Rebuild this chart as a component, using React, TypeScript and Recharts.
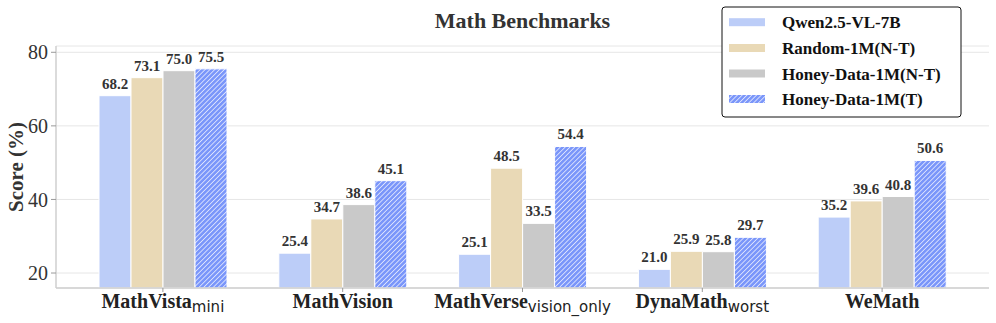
import React from 'react';
import { BarChart, Bar, XAxis, YAxis, CartesianGrid, LabelList } from 'recharts';

const categories = ['MathVista', 'MathVision', 'MathVerse', 'DynaMath', 'WeMath'];
const subscripts = ['mini', '', 'vision_only', 'worst', ''];
const qwen = [68.2, 25.4, 25.1, 21.0, 35.2];
const random1m = [73.1, 34.7, 48.5, 25.9, 39.6];
const honeyNT = [75.0, 38.6, 33.5, 25.8, 40.8];
const honeyT = [75.5, 45.1, 54.4, 29.7, 50.6];
const seriesNames = ['Qwen2.5-VL-7B', 'Random-1M(N-T)', 'Honey-Data-1M(N-T)', 'Honey-Data-1M(T)'];
const yTicks = [20, 40, 60, 80];
const yDomain = [15.93, 81.71];
const title = 'Math Benchmarks';
const yLabel = 'Score (%)';

const colors = ['#bccdf8', '#e9d9b6', '#c9c9c9', '#7a96fa'];
const SERIF = '"Liberation Serif", "Times New Roman", Times, serif';

const data = categories.map((c, i) => ({
  name: c,
  s0: qwen[i],
  s1: random1m[i],
  s2: honeyNT[i],
  s3: honeyT[i],
}));

const XTick = (props: any) => {
  const { x, y, payload } = props;
  const i = categories.indexOf(payload.value);
  const sub = subscripts[i];
  return (
    <text x={x} y={y + 14} textAnchor="middle" fill="#222" fontFamily={SERIF}>
      <tspan fontWeight="bold" fontSize={20}>{payload.value}</tspan>
      {sub ? (
        <tspan fontFamily='"DejaVu Sans", sans-serif' fontSize={15} dy={4} fontWeight="normal">
          {sub}
        </tspan>
      ) : null}
    </text>
  );
};

const fmt = (v: any) => Number(v).toFixed(1);

export default function App() {
  const keys = ['s0', 's1', 's2', 's3'];
  const legendRows = [22.2, 48, 73.5, 99];
  return (
    <div style={{ position: 'absolute', left: 0, top: 0, width: 996, height: 323, background: '#fff' }}>
      <BarChart
        width={996}
        height={323}
        data={data}
        margin={{ top: 46, right: 7, left: 0, bottom: 0 }}
        barCategoryGap={26}
        barGap={0}
      >
        <defs>
          <pattern id="hatch" width="3.4" height="3.4" patternUnits="userSpaceOnUse" patternTransform="rotate(45)">
            <rect width="3.4" height="3.4" fill={colors[3]} />
            <line x1="0" y1="0" x2="0" y2="3.4" stroke="#ffffff" strokeWidth="1.3" />
          </pattern>
        </defs>
        <CartesianGrid vertical={false} stroke="#e6e6e6" strokeWidth={1} />
        <XAxis
          dataKey="name"
          height={35}
          padding={{ left: 17, right: 17 }}
          axisLine={{ stroke: '#cfcfcf', strokeWidth: 1.5 }}
          tickLine={{ stroke: '#9a9a9a' }}
          tickSize={4}
          tickMargin={2}
          tick={<XTick />}
          interval={0}
        />
        <YAxis
          width={56}
          type="number"
          domain={yDomain}
          ticks={yTicks}
          allowDataOverflow
          axisLine={{ stroke: '#cfcfcf', strokeWidth: 1.5 }}
          tickLine={{ stroke: '#9a9a9a' }}
          tickSize={5}
          tickMargin={3}
          tick={{ fontSize: 20, fontFamily: SERIF, fill: '#333' }}
        />
        {keys.map((k, i) => (
          <Bar
            key={k}
            dataKey={k}
            name={seriesNames[i]}
            fill={i === 3 ? 'url(#hatch)' : colors[i]}
            stroke="#ffffff"
            strokeWidth={1}
            isAnimationActive={false}
          >
            <LabelList
              dataKey={k}
              position="top"
              offset={7}
              formatter={fmt}
              style={{ fontSize: 15, fontWeight: 'bold', fontFamily: SERIF, fill: '#333' }}
            />
          </Bar>
        ))}
      </BarChart>
      <svg
        width={996}
        height={323}
        style={{ position: 'absolute', left: 0, top: 0, pointerEvents: 'none' }}
      >
        <defs>
          <pattern id="hatchLeg" width="3.4" height="3.4" patternUnits="userSpaceOnUse" patternTransform="rotate(45)">
            <rect width="3.4" height="3.4" fill={colors[3]} />
            <line x1="0" y1="0" x2="0" y2="3.4" stroke="#ffffff" strokeWidth="1.3" />
          </pattern>
        </defs>
        <text x={522.5} y={28} textAnchor="middle" fontFamily={SERIF} fontWeight="bold" fontSize={22} fill="#333">
          {title}
        </text>
        <text
          x={16}
          y={167}
          transform="rotate(-90 16 167)"
          textAnchor="middle"
          dominantBaseline="central"
          fontFamily={SERIF}
          fontWeight="bold"
          fontSize={21}
          fill="#333"
        >
          {yLabel}
        </text>
        <rect x={722} y={7} width={239} height={110} rx={3} ry={3} fill="#fff" stroke="#111" strokeWidth={1} />
        {seriesNames.map((n, i) => (
          <g key={n}>
            <rect
              x={729}
              y={legendRows[i] - 4}
              width={36}
              height={8}
              fill={i === 3 ? 'url(#hatchLeg)' : colors[i]}
            />
            <text x={782} y={legendRows[i] + 6} fontFamily={SERIF} fontWeight="bold" fontSize={17} fill="#111">
              {n}
            </text>
          </g>
        ))}
      </svg>
    </div>
  );
}
